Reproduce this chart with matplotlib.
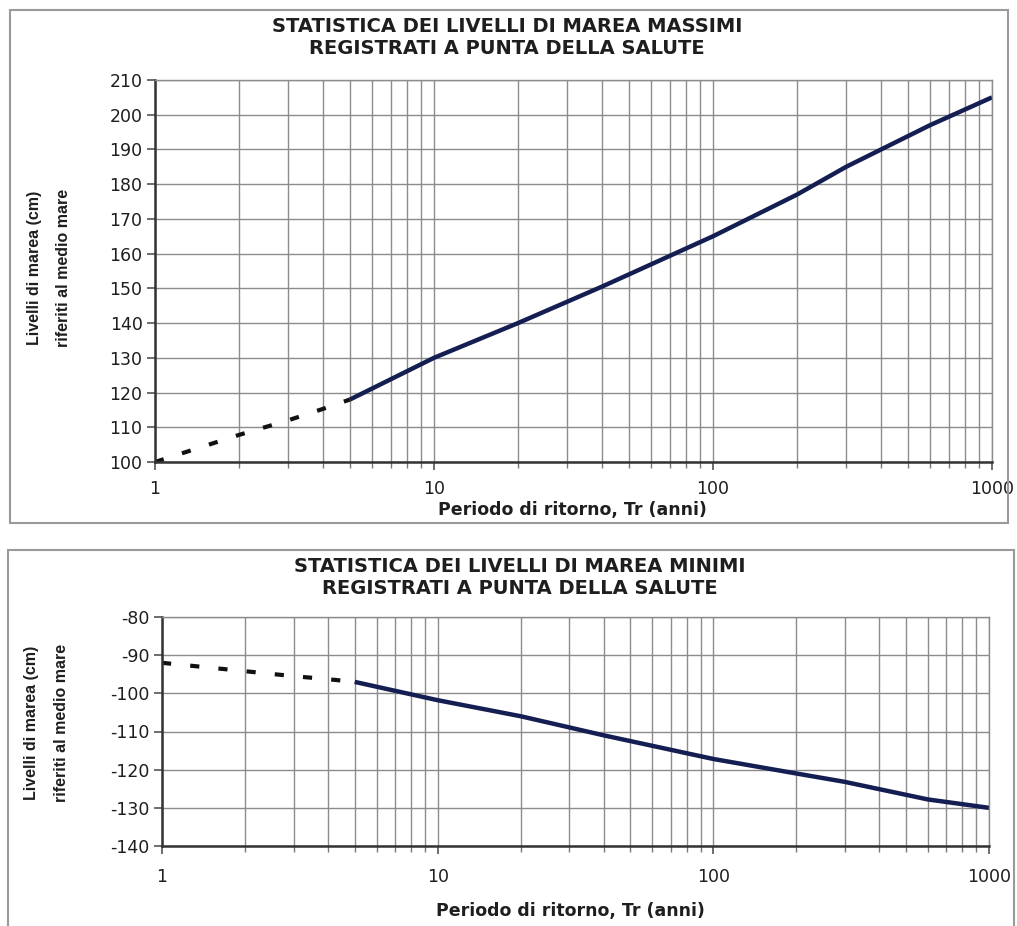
import matplotlib
matplotlib.use("Agg")
import matplotlib.pyplot as plt
from matplotlib.patches import Rectangle
from matplotlib.ticker import LogLocator, FixedLocator, NullFormatter

plt.rcParams['font.family'] = ['DejaVu Sans']
plt.rcParams['axes.unicode_minus'] = False

# Massimi: extrapolated (dashed) and fitted (solid) branches
max_tr_dash = [1, 2, 3, 4, 5]
max_lv_dash = [100.0, 107.8, 112.0, 115.3, 118.0]
max_tr = [5, 10, 20, 40, 100, 200, 300, 600, 1000]
max_lv = [118.0, 130.0, 140.0, 150.5, 165.0, 177.0, 185.0, 197.0, 205.0]

# Minimi
min_tr_dash = [1, 2, 3, 4, 5]
min_lv_dash = [-92.0, -94.2, -95.5, -96.3, -97.0]
min_tr = [5, 10, 20, 40, 100, 200, 300, 600, 1000]
min_lv = [-97.0, -101.8, -106.0, -111.0, -117.2, -121.0, -123.2, -127.8, -130.0]

max_yticks = list(range(100, 211, 10))
min_yticks = list(range(-140, -79, 10))
x_ticks = [1, 10, 100, 1000]

titles = ["STATISTICA DEI LIVELLI DI MAREA MASSIMI\nREGISTRATI A PUNTA DELLA SALUTE",
          "STATISTICA DEI LIVELLI DI MAREA MINIMI\nREGISTRATI A PUNTA DELLA SALUTE"]
ylab1 = "Livelli di marea (cm)"
ylab2 = "riferiti al medio mare"
xlab = "Periodo di ritorno, Tr (anni)"

W, H = 1017, 926
fig = plt.figure(figsize=(W / 100, H / 100), dpi=100)

def fx(px):
    return px / W

def fy(py):
    return 1 - py / H

# panel frames
fig.patches.append(Rectangle((fx(10), fy(523)), fx(998), 513 / H, transform=fig.transFigure,
                             fill=False, edgecolor='#9a9a9a', linewidth=1.5))
fig.patches.append(Rectangle((fx(8), fy(935)), fx(1006), 385 / H, transform=fig.transFigure,
                             fill=False, edgecolor='#9a9a9a', linewidth=1.5))

LINE = '#141e52'
TXT = '#1e1e1e'
LABEL_FONT = ['Liberation Sans', 'DejaVu Sans']

def style_axes(ax, yticks):
    ax.set_xscale('log')
    ax.set_xlim(1, 1000)
    ax.set_ylim(yticks[0], yticks[-1])
    ax.set_yticks(yticks)
    ax.xaxis.set_major_locator(FixedLocator(x_ticks))
    ax.xaxis.set_minor_locator(LogLocator(base=10, subs=range(2, 10)))
    ax.xaxis.set_minor_formatter(NullFormatter())
    ax.set_xticklabels([str(t) for t in x_ticks])
    ax.grid(True, which='major', axis='both', color='#8c8c8c', linewidth=1.0)
    ax.grid(True, which='minor', axis='x', color='#8c8c8c', linewidth=1.0)
    ax.set_axisbelow(True)
    for s in ['top', 'right']:
        ax.spines[s].set_color('#8c8c8c')
        ax.spines[s].set_linewidth(1.0)
    for s in ['left', 'bottom']:
        ax.spines[s].set_color('#333333')
        ax.spines[s].set_linewidth(1.8)
    ax.tick_params(axis='both', which='major', labelsize=12.5, length=6, width=1.2,
                   color='#555555', labelcolor=TXT, pad=3)
    ax.tick_params(axis='x', which='minor', length=4, width=1.0, color='#777777')
    ax.tick_params(axis='x', which='major', pad=7)

DASH = (0, (2.2, 4.6))

# top panel
ax1 = fig.add_axes([fx(155), fy(462), fx(992 - 155), (462 - 80) / H])
style_axes(ax1, max_yticks)
ax1.plot(max_tr_dash, max_lv_dash, color='#111111', linewidth=3,
         linestyle=DASH, dash_capstyle='butt')
ax1.plot(max_tr, max_lv, color=LINE, linewidth=3.2, solid_capstyle='butt')

fig.text(fx(507), fy(38), titles[0], ha='center', va='center', fontsize=14,
         fontweight='bold', color=TXT, linespacing=1.2)
fig.text(fx(35), fy(268), ylab1, rotation=90, ha='center', va='center',
         fontsize=11.5, fontweight='bold', color=TXT, family=LABEL_FONT)
fig.text(fx(63), fy(268), ylab2, rotation=90, ha='center', va='center',
         fontsize=11.5, fontweight='bold', color=TXT, family=LABEL_FONT)
fig.text(fx(572), fy(510), xlab, ha='center', va='center', fontsize=12.5,
         fontweight='bold', color=TXT)

# bottom panel
ax2 = fig.add_axes([fx(162), fy(846), fx(989 - 162), (846 - 617) / H])
style_axes(ax2, min_yticks)
ax2.tick_params(axis='x', which='major', pad=10)
ax2.plot(min_tr_dash, min_lv_dash, color='#111111', linewidth=3,
         linestyle=DASH, dash_capstyle='butt')
ax2.plot(min_tr, min_lv, color=LINE, linewidth=3.2, solid_capstyle='butt')

fig.text(fx(520), fy(578), titles[1], ha='center', va='center', fontsize=14,
         fontweight='bold', color=TXT, linespacing=1.2)
fig.text(fx(32), fy(723), ylab1, rotation=90, ha='center', va='center',
         fontsize=11.5, fontweight='bold', color=TXT, family=LABEL_FONT)
fig.text(fx(61), fy(723), ylab2, rotation=90, ha='center', va='center',
         fontsize=11.5, fontweight='bold', color=TXT, family=LABEL_FONT)
fig.text(fx(570), fy(911), xlab, ha='center', va='center', fontsize=12.5,
         fontweight='bold', color=TXT)

fig.savefig('out.png', dpi=100, facecolor='white')
